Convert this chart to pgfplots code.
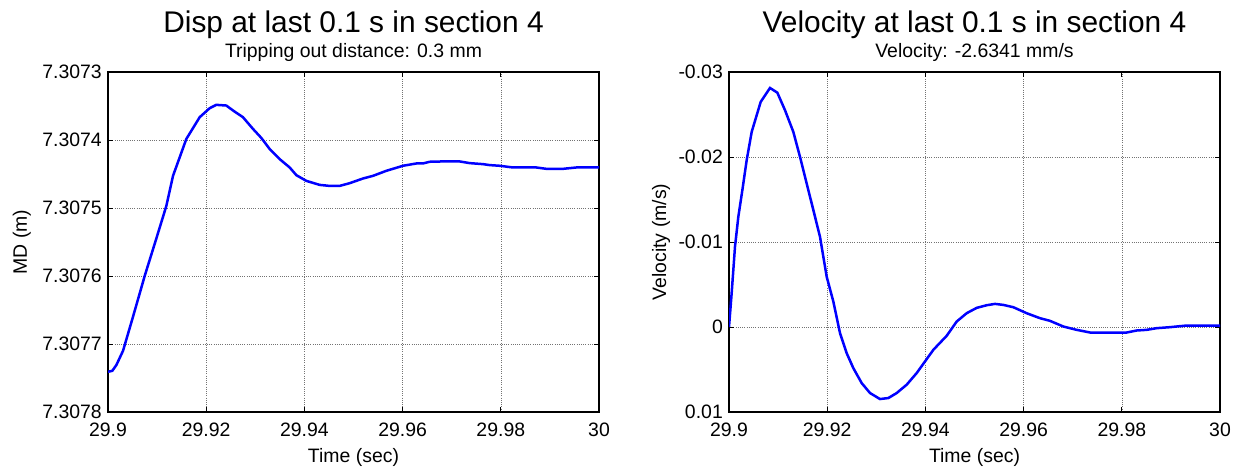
\documentclass[border=0pt]{standalone}
\usepackage{fontspec}
\setmainfont{Liberation Sans}
\usepackage{pgfplots}
\usepackage{pgfplotstable}
\pgfplotsset{compat=1.18}

% Left: time (s) and MD offset from 7.3073 m, in units of 1e-4 m
\pgfplotstableread{
t dMD
29.9 4.409
29.90088 4.394
29.9017 4.31
29.90306 4.10
29.90509 3.6
29.90747 3.0
29.90984 2.45
29.91188 1.97
29.91324 1.527
29.91595 0.985
29.91867 0.665
29.92071 0.532
29.92206 0.483
29.9241 0.493
29.92546 0.566
29.92749 0.665
29.92953 0.837
29.93123 0.97
29.93293 1.133
29.93496 1.281
29.937 1.404
29.93836 1.517
29.94039 1.601
29.94311 1.66
29.94515 1.675
29.94718 1.675
29.94922 1.635
29.95193 1.566
29.95397 1.527
29.95669 1.453
29.96008 1.379
29.9628 1.345
29.96415 1.345
29.96551 1.32
29.96823 1.315
29.97162 1.315
29.97366 1.34
29.97637 1.355
29.97773 1.369
29.97977 1.379
29.98248 1.404
29.98724 1.404
29.98927 1.424
29.99267 1.424
29.99538 1.404
30 1.404
}\disptable

\pgfplotstableread{
t v
29.9 0.0
29.90054 -0.003972
29.90122 -0.009451
29.9019 -0.012974
29.90272 -0.016105
29.9036 -0.019628
29.90462 -0.022955
29.90645 -0.026477
29.90835 -0.028121
29.90984 -0.027573
29.91141 -0.025499
29.9131 -0.022955
29.91446 -0.020019
29.91582 -0.016888
29.91718 -0.013757
29.91853 -0.010626
29.91989 -0.005929
29.92125 -0.002993
29.92261 0.000725
29.92396 0.003073
29.92532 0.004835
29.92702 0.006596
29.92872 0.00777
29.93075 0.008475
29.93245 0.008357
29.93415 0.00777
29.93618 0.006792
29.93822 0.005422
29.93958 0.004326
29.94162 0.002682
29.94433 0.001038
29.94637 -0.000645
29.9484 -0.001623
29.95044 -0.00225
29.95248 -0.002562
29.95418 -0.002719
29.95587 -0.0026
29.95791 -0.002328
29.96062 -0.001623
29.96334 -0.001036
29.96538 -0.000723
29.96809 -0.000058
29.97081 0.000334
29.97352 0.000647
29.97624 0.000647
29.98099 0.000647
29.98303 0.000412
29.98506 0.000334
29.9871 0.000138
29.98982 0.00002
29.99321 -0.000175
29.99661 -0.000175
30 -0.000175
}\veltable

\pgfplotsset{mstyle/.style={
  scale only axis, width=491bp, height=340bp,
  xmin=29.9, xmax=30,
  xtick={29.9,29.92,29.94,29.96,29.98,30},
  xticklabels={29.9,29.92,29.94,29.96,29.98,30},
  scaled ticks=false,
  clip mode=individual,
  y dir=reverse,
  grid=major,
  major grid style={black!55, line width=0.6bp, dash pattern=on 1bp off 1.2bp},
  axis line style={line width=1.2bp},
  tick align=inside,
  major tick length=5bp,
  tick style={black, line width=0.8bp},
  ticklabel style={font=\fontsize{19.5}{22}\selectfont, inner sep=0pt},
  xticklabel style={anchor=base, yshift=-24bp},
  yticklabel style={anchor=east, xshift=-6bp},
}}

\begin{document}
\begin{tikzpicture}
\begin{axis}[mstyle, at={(108bp,55bp)}, anchor=south west,
  ymin=0, ymax=5, ytick={0,1,2,3,4,5},
  yticklabels={7.3073,7.3074,7.3075,7.3076,7.3077,7.3078}]
  \addplot[blue, line width=2.5bp] table[x=t, y=dMD] {\disptable};
  \node[anchor=base, font=\fontsize{30}{34}\selectfont] at ([yshift=40bp]axis description cs:0.5,1) {Disp at last 0.1 s in section 4};
  \node[anchor=base, font=\fontsize{19.5}{22}\selectfont] at ([yshift=15bp]axis description cs:0.5,1) {Tripping out distance: 0.3 mm};
  \node[anchor=base, font=\fontsize{19.5}{22}\selectfont] at ([yshift=-50bp]axis description cs:0.5,0) {Time (sec)};
  \node[anchor=base, rotate=90, font=\fontsize{19.5}{22}\selectfont] at ([xshift=-81bp]axis description cs:0,0.5) {MD (m)};
\end{axis}
\begin{axis}[mstyle, at={(729bp,55bp)}, anchor=south west,
  ymin=-0.03, ymax=0.01, ytick={-0.03,-0.02,-0.01,0,0.01},
  yticklabels={-0.03,-0.02,-0.01,0,0.01}]
  \addplot[blue, line width=2.5bp] table[x=t, y=v] {\veltable};
  \node[anchor=base, font=\fontsize{30}{34}\selectfont] at ([yshift=40bp]axis description cs:0.5,1) {Velocity at last 0.1 s in section 4};
  \node[anchor=base, font=\fontsize{19.5}{22}\selectfont] at ([yshift=15bp]axis description cs:0.5,1) {Velocity: -2.6341 mm/s};
  \node[anchor=base, font=\fontsize{19.5}{22}\selectfont] at ([yshift=-50bp]axis description cs:0.5,0) {Time (sec)};
  \node[anchor=base, rotate=90, font=\fontsize{19.5}{22}\selectfont] at ([xshift=-63bp]axis description cs:0,0.5) {Velocity (m/s)};
\end{axis}
\pgfresetboundingbox
\useasboundingbox (0,0) rectangle (1234bp,467bp);
\end{tikzpicture}
\end{document}
